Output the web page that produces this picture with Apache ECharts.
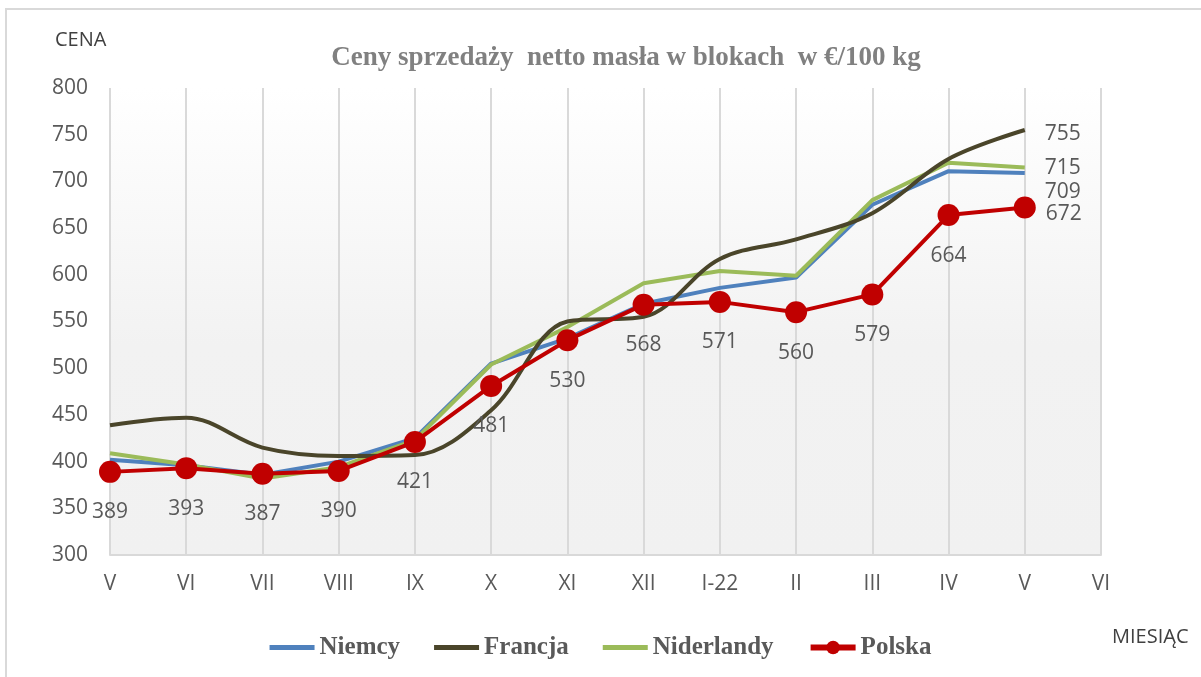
<!DOCTYPE html>
<html>
<head>
  <meta charset="utf-8">
  <title>Ceny masła</title>
  <script src="https://cdn.jsdelivr.net/npm/echarts@6/dist/echarts.min.js"></script>
  <style>
    html, body { margin: 0; padding: 0; background: #fff; }
    #main { width: 1201px; height: 677px; }
  </style>
</head>
<body>
  <div id="main"></div>
  <script type="text/javascript">
    // miesiące (oś X)
    var months = ['V', 'VI', 'VII', 'VIII', 'IX', 'X', 'XI', 'XII', 'I-22', 'II', 'III', 'IV', 'V', 'VI'];

    // ceny w €/100 kg
    var niemcy     = [402, 396, 386, 400, 425, 505, 532, 569, 586, 597, 675, 711, 709];
    var francja    = [439, 447, 415, 406, 407, 455, 550, 555, 617, 638, 666, 724, 755];
    var niderlandy = [409, 397, 382, 394, 423, 504, 544, 591, 604, 599, 680, 720, 715];
    var polska     = [389, 393, 387, 390, 421, 481, 530, 568, 571, 560, 579, 664, 672];

    var labelFont = 'Open Sans';
    var labelColor = '#595959';
    var barIcon = 'path://M0,0H45V5H0Z';

    // etykieta przy końcu linii
    function endLabel(offset) {
      return {
        show: true,
        distance: 20,
        offset: offset,
        formatter: function (p) { return p.value; },
        fontFamily: labelFont,
        fontSize: 21,
        color: labelColor
      };
    }

    var polskaData = polska.map(function (v, i) {
      if (i === polska.length - 1) {
        return { value: v, label: { position: 'right', distance: 10, offset: [0, 6] } };
      }
      return v;
    });

    var myChart = echarts.init(document.getElementById('main'));

    var option = {
      backgroundColor: '#fff',
      animation: false,
      title: {
        text: 'Ceny sprzedaży  netto masła w blokach  w €/100 kg',
        left: 621,
        textAlign: 'center',
        top: 40,
        textStyle: {
          fontFamily: 'Liberation Serif',
          fontWeight: 'bold',
          fontSize: 27,
          color: '#808080'
        }
      },
      graphic: [{
        type: 'rect',
        shape: { x: 6, y: 9, width: 1300, height: 700 },
        style: { fill: 'none', stroke: '#d9d9d9', lineWidth: 2 },
        silent: true
      }, {
        type: 'text',
        left: 55,
        top: 30,
        style: { text: 'CENA', fontFamily: labelFont, fontSize: 20, fill: '#404040' }
      }, {
        type: 'text',
        left: 1112,
        top: 627,
        style: { text: 'MIESIĄC', fontFamily: labelFont, fontSize: 20, fill: '#404040' }
      }],
      legend: {
        bottom: 12,
        left: 'center',
        itemWidth: 45,
        itemHeight: 17,
        itemGap: 34,
        lineStyle: { width: 6 },
        textStyle: {
          fontFamily: 'Liberation Serif',
          fontWeight: 'bold',
          fontSize: 25,
          color: '#595959'
        },
        data: [
          { name: 'Niemcy', icon: barIcon },
          { name: 'Francja', icon: barIcon },
          { name: 'Niderlandy', icon: barIcon },
          { name: 'Polska' }
        ]
      },
      grid: {
        left: 110,
        right: 100,
        top: 88,
        bottom: 122,
        show: true,
        borderWidth: 0,
        backgroundColor: new echarts.graphic.LinearGradient(0, 0, 0, 1, [
          { offset: 0, color: '#ffffff' },
          { offset: 0.55, color: '#f2f2f2' },
          { offset: 1, color: '#f1f1f1' }
        ])
      },
      xAxis: {
        type: 'category',
        data: months,
        boundaryGap: false,
        axisLine: { lineStyle: { color: '#d9d9d9', width: 2 } },
        axisTick: { show: false },
        axisLabel: {
          margin: 19,
          fontFamily: labelFont,
          fontSize: 21,
          color: labelColor
        },
        splitLine: { show: true, lineStyle: { color: '#d9d9d9', width: 2 } }
      },
      yAxis: {
        type: 'value',
        min: 300,
        max: 800,
        interval: 50,
        axisLine: { show: false },
        axisTick: { show: false },
        splitLine: { show: false },
        axisLabel: {
          margin: 22,
          fontFamily: labelFont,
          fontSize: 21,
          color: labelColor
        }
      },
      series: [{
        name: 'Niemcy',
        type: 'line',
        data: niemcy,
        symbol: 'none',
        lineStyle: { color: '#4f81bd', width: 4 },
        itemStyle: { color: '#4f81bd' },
        endLabel: endLabel([0, 19]),
        z: 2
      }, {
        name: 'Francja',
        type: 'line',
        data: francja,
        symbol: 'none',
        smooth: 0.35,
        lineStyle: { color: '#4a452a', width: 4 },
        itemStyle: { color: '#4a452a' },
        endLabel: endLabel([0, 4]),
        z: 3
      }, {
        name: 'Niderlandy',
        type: 'line',
        data: niderlandy,
        symbol: 'none',
        lineStyle: { color: '#9bbb59', width: 4 },
        itemStyle: { color: '#9bbb59' },
        endLabel: endLabel([0, 1]),
        z: 2
      }, {
        name: 'Polska',
        type: 'line',
        data: polskaData,
        symbol: 'circle',
        symbolSize: 22,
        lineStyle: { color: '#c00000', width: 4 },
        itemStyle: { color: '#c00000' },
        label: {
          show: true,
          position: 'bottom',
          distance: 19,
          fontFamily: labelFont,
          fontSize: 21,
          color: labelColor
        },
        z: 4
      }]
    };

    myChart.setOption(option);
  </script>
</body>
</html>
